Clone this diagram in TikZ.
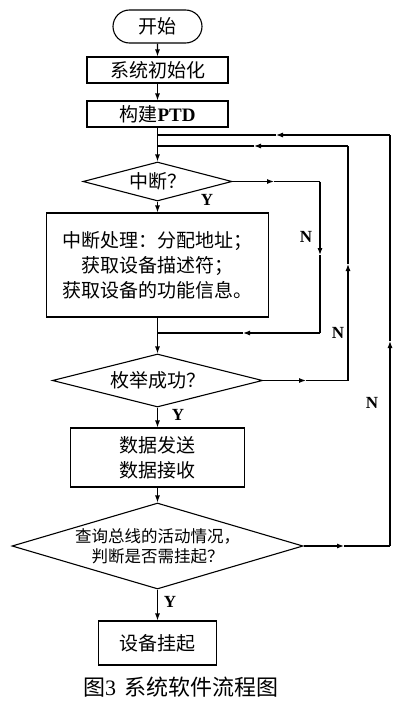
\documentclass[tikz,border=0pt]{standalone}
\usepackage{fontspec}
\setmainfont{Liberation Serif}
\newfontfamily\cjk{Noto Sans CJK SC}
\usetikzlibrary{shapes.geometric,shapes.misc,arrows.meta}
\begin{document}
\begin{tikzpicture}[x=1pt,y=-1pt,line width=1.1pt,
  box/.style={draw,rectangle,inner sep=0pt,align=center,font=\cjk\fontsize{19}{25}\selectfont},
  term/.style={draw,rounded rectangle,inner sep=0pt,font=\cjk\fontsize{19}{25}\selectfont},
  dec/.style={draw,diamond,inner sep=0pt,align=center,font=\cjk\fontsize{19}{25}\selectfont},
  arr/.style={-{Latex[length=7pt,width=5pt]}},
  lab/.style={inner sep=0pt,font=\bfseries\fontsize{17}{17}\selectfont}]
\useasboundingbox (0,0) rectangle (408,704);
\fill[white] (0,0) rectangle (408,704);

\node[term,minimum width=89pt,minimum height=33pt] (start) at (157.5,26.5) {开始};
\node[box,minimum width=141pt,minimum height=26pt] (init) at (157.5,70) {系统初始化};
\node[box,minimum width=141pt,minimum height=26pt] (ptd) at (157.5,114) {构建{\fontspec{Liberation Serif}\bfseries PTD}};
\coordinate (j1) at (157.5,135);
\coordinate (j2) at (157.5,146);
\node[dec,minimum width=149pt,minimum height=39pt,aspect=3.8] (d1) at (157.5,181.5) {中断？};
\node[box,minimum width=222pt,minimum height=104pt] (proc) at (157.5,265) {中断处理：分配地址；\\获取设备描述符；\\获取设备的功能信息。};
\coordinate (j3) at (157.5,333);
\node[dec,minimum width=210pt,minimum height=53pt,aspect=3.96] (d2) at (157.5,380.5) {枚举成功？};
\node[box,minimum width=174pt,minimum height=59pt] (data) at (157.5,457.5) {数据发送\\数据接收};
\node[dec,minimum width=291pt,minimum height=86pt,aspect=3.38,font=\cjk\fontsize{16.5}{20}\selectfont] (d3) at (157.5,546) {查询总线的活动情况，\\判断是否需挂起？};
\node[box,minimum width=118pt,minimum height=44pt] (end) at (157.5,643) {设备挂起};

\coordinate (r1a) at (320,181.5);
\coordinate (r1b) at (320,333);
\coordinate (r2a) at (348,380.5);
\coordinate (r2b) at (348,146);
\coordinate (r3a) at (390,546);
\coordinate (r3b) at (390,135);
\coordinate (m1) at (274,181.5);
\coordinate (m2) at (320,255);
\coordinate (m3) at (243,333);
\coordinate (m4) at (306,380.5);
\coordinate (m5) at (348,264);
\coordinate (m6) at (254,146);
\coordinate (m7) at (344,546);
\coordinate (m8) at (390,341);
\coordinate (m9) at (276,135);

\draw[arr] (start) -- (init);
\draw[arr] (init) -- (ptd);
\draw (ptd) -- (j1) -- (j2);
\draw[arr] (j2) -- (d1);
\draw[arr] (d1) -- (proc);
\draw (proc) -- (j3);
\draw[arr] (j3) -- (d2);
\draw[arr] (d2) -- (data);
\draw[arr] (data) -- (d3);
\draw[arr] (d3) -- (end);

\draw[arr] (d1.east) -- (m1);
\draw (m1) -- (r1a);
\draw[arr] (r1a) -- (m2);
\draw (m2) -- (r1b);
\draw[arr] (r1b) -- (m3);
\draw (m3) -- (j3);
\draw[arr] (d2.east) -- (m4);
\draw (m4) -- (r2a);
\draw[arr] (r2a) -- (m5);
\draw (m5) -- (r2b);
\draw[arr] (r2b) -- (m6);
\draw (m6) -- (j2);
\draw[arr] (d3.east) -- (m7);
\draw (m7) -- (r3a);
\draw[arr] (r3a) -- (m8);
\draw (m8) -- (r3b);
\draw[arr] (r3b) -- (m9);
\draw (m9) -- (j1);

\node[lab] (y1) at (207,200) {Y};
\node[lab] (n1) at (306,237) {N};
\node[lab] (n2) at (338,333) {N};
\node[lab] (y2) at (178,415) {Y};
\node[lab] (n3) at (372,403) {N};
\node[lab] (y3) at (170,602) {Y};

\node[inner sep=0pt,font=\fontsize{22}{22}\selectfont] (cap) at (181,687) {{\cjk 图}3\hspace{0.4em}{\cjk 系统软件流程图}};
\end{tikzpicture}
\end{document}
